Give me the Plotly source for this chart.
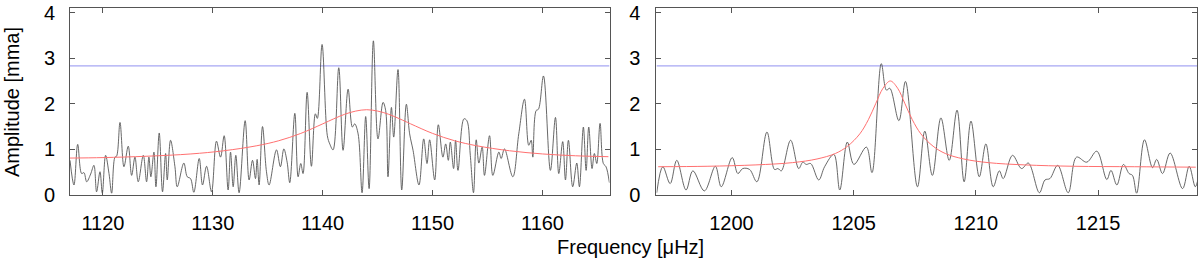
import plotly.graph_objects as go

# ---------------- data ----------------
left_freq = [1117.00, 1117.36, 1117.70, 1118.06, 1118.27, 1118.52, 1118.88, 1119.18, 1119.42, 1119.73,
             1119.94, 1120.24, 1120.55, 1120.79, 1121.09, 1121.24, 1121.55, 1121.91, 1122.30, 1122.61,
             1122.91, 1123.21, 1123.67, 1123.97, 1124.18, 1124.36, 1124.64, 1124.82, 1125.12, 1125.42,
             1125.70, 1125.85, 1126.15, 1126.55, 1126.76, 1127.36, 1127.67, 1127.97, 1128.27, 1128.76,
             1129.06, 1129.43, 1129.88, 1130.33, 1130.70, 1131.03, 1131.39, 1131.61, 1131.85, 1132.09,
             1132.39, 1132.94, 1133.30, 1133.61, 1133.88, 1134.03, 1134.21, 1134.52, 1134.88, 1135.12,
             1135.79, 1136.15, 1136.46, 1136.76, 1137.00, 1137.46, 1137.76, 1138.00, 1138.21, 1138.58,
             1138.97, 1139.33, 1139.51, 1139.94, 1140.42, 1140.64, 1140.94, 1141.46, 1141.85, 1142.31,
             1142.70, 1142.91, 1143.22, 1143.58, 1143.91, 1144.22, 1144.61, 1145.03, 1145.49, 1145.73,
             1145.94, 1146.25, 1146.46, 1146.85, 1147.19, 1147.61, 1147.91, 1148.22, 1148.76, 1149.19,
             1149.49, 1149.73, 1150.19, 1150.52, 1150.94, 1151.19, 1151.43, 1151.61, 1151.91, 1152.09,
             1152.31, 1152.85, 1153.12, 1153.43, 1153.72, 1153.97, 1154.21, 1154.51, 1154.72, 1155.18,
             1155.48, 1156.03, 1156.24, 1156.54, 1157.30, 1157.84, 1158.36, 1158.75, 1158.97, 1159.12,
             1159.42, 1159.63, 1160.09, 1160.72, 1161.18, 1161.48, 1161.84, 1162.09, 1162.36, 1162.75,
             1163.12, 1163.36, 1163.72, 1163.97, 1164.21, 1164.51, 1164.72, 1164.94, 1165.24, 1165.54,
             1165.78, 1166.09]
left_amp = [0.76, 0.22, 1.11, 0.47, 0.49, 0.29, 0.46, 0.65, 0.07, 0.51,
            0.04, 0.87, 0.47, 0.04, 0.83, 0.85, 1.59, 0.62, 1.07, 0.43,
            0.83, 0.29, 0.87, 0.29, 0.83, 0.40, 0.94, 0.18, 1.36, 0.07,
            0.91, 0.33, 1.20, 0.62, 0.18, 0.70, 0.40, 0.36, 0.06, 0.80,
            0.22, 0.63, 0.07, 1.18, 0.83, 1.30, 0.11, 0.94, 0.18, 0.87,
            0.05, 1.63, 0.33, 0.76, 0.36, 0.78, 0.22, 1.50, 0.51, 0.22,
            0.99, 0.62, 1.01, 0.72, 0.27, 1.79, 0.40, 0.69, 0.47, 2.25,
            0.63, 1.78, 1.68, 3.30, 1.30, 1.12, 0.99, 2.79, 0.98, 2.32,
            1.49, 1.56, 1.34, 0.05, 1.72, 0.14, 3.38, 1.23, 2.03, 1.85,
            0.40, 1.92, 1.27, 2.75, 0.11, 1.99, 1.34, 0.98, 0.22, 1.23,
            0.69, 1.21, 0.33, 1.54, 0.83, 1.12, 0.76, 1.16, 0.58, 1.20,
            0.54, 1.67, 1.63, 0.87, 0.05, 1.21, 0.70, 1.05, 0.43, 1.30,
            0.43, 0.94, 0.80, 1.01, 0.40, 1.34, 2.10, 1.09, 1.20, 0.83,
            1.85, 1.88, 2.61, 0.54, 1.70, 0.47, 1.17, 0.33, 1.20, 0.18,
            0.70, 0.18, 1.49, 0.54, 1.49, 0.58, 0.91, 0.69, 1.57, 0.69,
            0.62, 0.27]

left_fit_freq = [1117, 1120, 1124, 1128, 1131, 1134, 1136, 1138, 1140, 1141, 1142, 1143, 1144,
                 1145, 1146, 1147, 1148, 1150, 1152, 1154, 1157, 1160, 1163, 1166]
left_fit_amp = [0.81, 0.82, 0.85, 0.90, 0.97, 1.08, 1.19, 1.35, 1.56, 1.67, 1.77, 1.84, 1.87,
                1.84, 1.77, 1.67, 1.56, 1.35, 1.19, 1.08, 0.97, 0.90, 0.86, 0.84]

right_freq = [1196.94, 1197.19, 1197.49, 1197.76, 1198.14, 1198.42, 1198.89, 1199.34, 1199.58, 1200.03,
              1200.26, 1200.46, 1200.74, 1201.04, 1201.45, 1201.76, 1201.90, 1202.04, 1202.42, 1202.75,
              1202.92, 1203.06, 1203.24, 1203.57, 1203.81, 1204.19, 1204.43, 1204.74, 1205.01, 1205.52,
              1205.75, 1206.13, 1206.34, 1206.48, 1206.85, 1207.12, 1207.61, 1207.91, 1208.22, 1208.57,
              1208.91, 1209.23, 1209.52, 1209.80, 1210.14, 1210.41, 1210.71, 1210.96, 1211.12, 1211.50,
              1211.87, 1212.15, 1212.60, 1212.83, 1213.03, 1213.35, 1213.78, 1214.12, 1214.54, 1214.95,
              1215.36, 1215.53, 1215.77, 1216.04, 1216.27, 1216.41, 1216.58, 1216.90, 1217.23, 1217.40,
              1217.64, 1217.95, 1218.46, 1218.73, 1218.98, 1219.11]
right_amp = [0.05, 0.62, 0.25, 0.76, 0.11, 0.53, 0.09, 0.63, 0.18, 0.82,
             0.47, 0.58, 0.56, 0.29, 1.38, 0.56, 0.58, 0.53, 1.20, 0.58,
             0.72, 0.67, 0.69, 0.33, 0.62, 0.89, 0.11, 1.16, 0.67, 1.05,
             0.49, 2.88, 2.30, 2.34, 1.63, 2.49, 0.18, 1.40, 0.43, 1.69,
             0.76, 1.86, 0.29, 1.62, 0.40, 1.12, 0.18, 0.53, 0.36, 0.87,
             0.58, 0.70, 0.05, 0.33, 0.36, 0.65, 0.05, 0.83, 0.72, 0.96,
             0.34, 0.54, 0.22, 0.67, 0.47, 0.43, 0.04, 1.21, 0.60, 0.78,
             0.47, 0.92, 0.14, 0.63, 0.18, 0.40]

right_fit_freq = [1197, 1199, 1201, 1202.5, 1203.5, 1204.25, 1204.75, 1205.25, 1205.6, 1205.9,
                  1206.2, 1206.5, 1206.8, 1207.1, 1207.4, 1207.75, 1208.25, 1208.75, 1209.5,
                  1210.5, 1212, 1214, 1216.5, 1219]
right_fit_amp = [0.62, 0.63, 0.66, 0.71, 0.79, 0.91, 1.07, 1.34, 1.65, 2.00,
                 2.34, 2.50, 2.34, 2.00, 1.65, 1.34, 1.07, 0.91, 0.79,
                 0.71, 0.66, 0.63, 0.62, 0.61]

threshold = 2.83
left_range = [1117.0, 1166.1]
right_range = [1196.93, 1219.05]
y_range = [0, 4.1]
left_ticks = [1120, 1130, 1140, 1150, 1160]
right_ticks = [1200, 1205, 1210, 1215]
y_ticks = [0, 1, 2, 3, 4]

# ---------------- figure ----------------
FONT = "Liberation Sans, Arial, Helvetica, sans-serif"
FS = 20
BLACK = "#575757"
RED = "#ff7070"
BLUE = "#9090f0"

fig = go.Figure()

fig.add_trace(go.Scatter(x=left_range, y=[threshold, threshold], mode="lines",
                         line=dict(color=BLUE, width=1), xaxis="x", yaxis="y", showlegend=False))
fig.add_trace(go.Scatter(x=left_freq, y=left_amp, mode="lines",
                         line=dict(color=BLACK, width=0.9, shape="spline", smoothing=1.0),
                         xaxis="x", yaxis="y", showlegend=False))
fig.add_trace(go.Scatter(x=left_fit_freq, y=left_fit_amp, mode="lines",
                         line=dict(color=RED, width=1, shape="spline"),
                         xaxis="x", yaxis="y", showlegend=False))

fig.add_trace(go.Scatter(x=right_range, y=[threshold, threshold], mode="lines",
                         line=dict(color=BLUE, width=1), xaxis="x2", yaxis="y2", showlegend=False))
fig.add_trace(go.Scatter(x=right_freq, y=right_amp, mode="lines",
                         line=dict(color=BLACK, width=0.9, shape="spline", smoothing=1.0),
                         xaxis="x2", yaxis="y2", showlegend=False))
fig.add_trace(go.Scatter(x=right_fit_freq, y=right_fit_amp, mode="lines",
                         line=dict(color=RED, width=1, shape="spline"),
                         xaxis="x2", yaxis="y2", showlegend=False))

axis_common = dict(showline=True, linecolor="#555555", linewidth=1, mirror="ticks",
                   ticks="inside", ticklen=5, tickcolor="#555555", tickwidth=1,
                   showgrid=False, zeroline=False, ticklabeloverflow="allow",
                   tickfont=dict(family=FONT, size=FS, color="black"))

W, H = 1200, 263
ml, mr, mt, mb = 70, 2, 6, 68
pw = W - ml - mr
ph = H - mt - mb
left_dom = [0, (610 - ml) / pw]
right_dom = [(657 - ml) / pw, 1]

fig.update_layout(
    width=W, height=H,
    margin=dict(l=ml, r=mr, t=mt, b=mb),
    paper_bgcolor="white", plot_bgcolor="white",
    font=dict(family=FONT, size=FS, color="black"),
    xaxis=dict(domain=left_dom, range=left_range, tickvals=left_ticks,
               ticklabelstandoff=10, **axis_common),
    yaxis=dict(domain=[0, 1], range=y_range, tickvals=y_ticks,
               ticklabelstandoff=10, **axis_common),
    xaxis2=dict(domain=right_dom, range=right_range, tickvals=right_ticks, anchor="y2",
                ticklabelstandoff=10, **axis_common),
    yaxis2=dict(domain=[0, 1], range=y_range, tickvals=y_ticks, anchor="x2",
                ticklabelstandoff=11, **axis_common),
    annotations=[
        dict(text="Frequency [μHz]", xref="paper", yref="paper",
             x=(631 - ml) / pw, y=-53 / ph, xanchor="center", yanchor="middle",
             showarrow=False, font=dict(family=FONT, size=FS, color="black")),
        dict(text="Amplitude [mma]", xref="paper", yref="paper", textangle=-90,
             x=(12 - ml) / pw, y=(195 - 101) / ph, xanchor="center", yanchor="middle",
             showarrow=False, font=dict(family=FONT, size=FS, color="black")),
    ],
)

fig.write_html("out.html", config={"displayModeBar": False},
               post_script="document.body.style.margin='0';document.body.style.padding='0';")
